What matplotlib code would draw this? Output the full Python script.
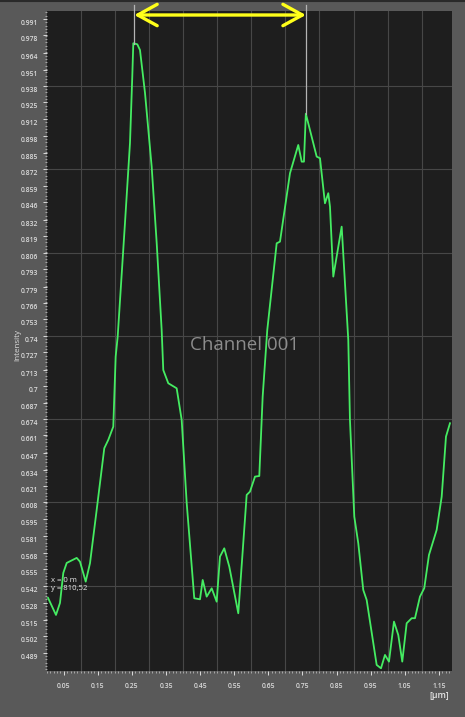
import numpy as np
import matplotlib
matplotlib.use('Agg')
import matplotlib.pyplot as plt
from matplotlib.ticker import FixedLocator, MultipleLocator
from matplotlib.transforms import ScaledTranslation

# profile line
POS_UM = [0.004, 0.0273, 0.039, 0.0487, 0.0587, 0.088, 0.0977, 0.1144, 0.127, 0.1466,
          0.1689, 0.1806, 0.1953, 0.2023, 0.2082, 0.2296, 0.2443, 0.251, 0.254, 0.2657,
          0.2736, 0.2883, 0.3079, 0.3226, 0.3372, 0.3419, 0.3566, 0.3812, 0.3959, 0.4106,
          0.4328, 0.4496, 0.4575, 0.4692, 0.4839, 0.4985, 0.5082, 0.5208, 0.5355, 0.5619,
          0.5865, 0.5962, 0.6109, 0.6235, 0.6334, 0.6469, 0.6745, 0.6842, 0.7135, 0.7378,
          0.7478, 0.7545, 0.7600, 0.7918, 0.8015, 0.8161, 0.8258, 0.8308, 0.8405, 0.8651,
          0.8845, 0.8894, 0.9021, 0.9138, 0.9284, 0.9384, 0.9677, 0.9804, 0.9921, 1.0038,
          1.0185, 1.0311, 1.0428, 1.0557, 1.0704, 1.0801, 1.0947, 1.1073, 1.1211, 1.1437,
          1.1584, 1.1710, 1.1827]
INTENSITY = [0.5323, 0.5188, 0.5283, 0.5521, 0.5600, 0.5640, 0.5610, 0.5452, 0.5598, 0.6020,
             0.6509, 0.6575, 0.6680, 0.7235, 0.7393, 0.8294, 0.8928, 0.9454, 0.9718, 0.9710,
             0.9665, 0.9325, 0.8740, 0.8136, 0.7446, 0.7129, 0.7024, 0.6984, 0.6733, 0.6075,
             0.5320, 0.5312, 0.5465, 0.5333, 0.5399, 0.5293, 0.5650, 0.5716, 0.5571, 0.5201,
             0.6139, 0.6165, 0.6284, 0.6289, 0.6918, 0.7446, 0.8133, 0.8146, 0.8688, 0.8912,
             0.8780, 0.8780, 0.9160, 0.8820, 0.8807, 0.8450, 0.8530, 0.8424, 0.7869, 0.8265,
             0.7367, 0.6733, 0.5967, 0.5756, 0.5386, 0.5307, 0.4792, 0.4765, 0.4871, 0.4818,
             0.5135, 0.5029, 0.4818, 0.5122, 0.5162, 0.5162, 0.5333, 0.5400, 0.5663, 0.5862,
             0.6125, 0.6601, 0.6707]

Y_LABELS = ['0.991', '0.978', '0.964', '0.951', '0.938', '0.925', '0.912', '0.898', '0.885',
            '0.872', '0.859', '0.846', '0.832', '0.819', '0.806', '0.793', '0.779', '0.766',
            '0.753', '0.74', '0.727', '0.713', '0.7', '0.687', '0.674', '0.661', '0.647',
            '0.634', '0.621', '0.608', '0.595', '0.581', '0.568', '0.555', '0.542', '0.528',
            '0.515', '0.502', '0.489']
X_TICKS = [0.05, 0.15, 0.25, 0.35, 0.45, 0.55, 0.65, 0.75, 0.85, 0.95, 1.05, 1.15]
X_LABELS = ['0.05', '0.15', '0.25', '0.35', '0.45', '0.55', '0.65', '0.75', '0.85', '0.95', '1.05', '1.15']
CURSORS = [0.2569, 0.7600]

BG = '#595959'
PANEL = '#1e1e1e'
GRID = '#474747'
TXT = '#dcdcdc'
GREEN = '#45ec62'

plt.rcParams['font.family'] = ['Open Sans', 'DejaVu Sans']


def main():
	fig = plt.figure(figsize=(4.65, 7.17), dpi=100, facecolor=BG)
	ax = fig.add_axes([0.1004, 0.0635, 0.8716, 0.9212])
	ax.set_facecolor(PANEL)

	ymin, ymax = 0.4740, 0.9974
	ax.set_xlim(0, 1.1886)
	ax.set_ylim(ymin, ymax)

	# y axis: fixed labels from the instrument
	yvals = [float(s) for s in Y_LABELS]
	ax.yaxis.set_major_locator(FixedLocator(yvals))
	ax.set_yticklabels(Y_LABELS, fontweight='semibold')
	step = (yvals[0] - yvals[-1]) / (len(yvals) - 1)
	ax.yaxis.set_minor_locator(FixedLocator(np.arange(yvals[-1] - step, ymax, step / 5)))
	ax.xaxis.set_major_locator(FixedLocator(X_TICKS))
	ax.set_xticklabels(X_LABELS, fontweight='semibold')
	ax.xaxis.set_minor_locator(MultipleLocator(0.01))

	ax.tick_params(axis='both', which='major', colors=TXT, labelsize=4.9, length=3, width=0.7)
	ax.tick_params(axis='both', which='minor', colors='#c8c8c8', length=1.7, width=0.5)
	ax.tick_params(axis='x', pad=5)
	ax.tick_params(axis='y', pad=3)
	off = ScaledTranslation(0, -3.5 / 100, fig.dpi_scale_trans)
	for lab in ax.get_yticklabels():
		lab.set_transform(lab.get_transform() + off)

	for s in ax.spines.values():
		s.set_visible(False)

	# grid: every fifth y label, every 0.1 in x
	for v in yvals[4::5]:
		ax.axhline(v, color=GRID, lw=0.8, zorder=1)
	for xv in np.arange(0.1, 1.15, 0.1):
		ax.axvline(xv, color=GRID, lw=0.8, zorder=1)

	ax.plot(POS_UM, INTENSITY, color=GREEN, lw=1.3, zorder=3)

	# cursors
	top_val = ymax + 6 / 1261.9
	for c in CURSORS:
		yv = np.interp(c, POS_UM, INTENSITY)
		ax.plot([c, c], [yv, top_val], color='#b4b4b4', lw=0.9, clip_on=False, zorder=4)

	ax.annotate('', xy=(CURSORS[1], 702), xytext=(CURSORS[0], 702),
		xycoords=('data', 'figure pixels'), textcoords=('data', 'figure pixels'),
		arrowprops=dict(arrowstyle='<->,head_length=1.0,head_width=0.55', color='#ffff1a',
			lw=2.4, mutation_scale=14, shrinkA=0, shrinkB=0),
		annotation_clip=False, zorder=5)

	ax.text(0.489, 0.494, 'Channel 001', transform=ax.transAxes, color='#8c8c8c',
		fontsize=13.5, ha='center', va='center', zorder=2)
	ax.text(0.0106, 0.1317, 'x = 0 m\ny = 810,52', transform=ax.transAxes, color='#e8e8e8',
		fontsize=5.6, ha='left', va='center', linespacing=1.15, zorder=5)

	fig.text(0.0387, 0.5188, 'Intensity', rotation=90, color=TXT, fontsize=5.8,
		ha='center', va='center')
	fig.text(0.9656, 0.0293, '[µm]', color='#e6e6e6', fontsize=6.3, fontweight='semibold',
		ha='right', va='center')

	# dark frame line at the very top
	fig.add_artist(plt.Line2D([0, 1], [0.998, 0.998], color='#2a2a2a', lw=1.5,
		transform=fig.transFigure))

	fig.savefig('out.png', dpi=100, facecolor=BG)


if __name__ == "__main__":
	main()
